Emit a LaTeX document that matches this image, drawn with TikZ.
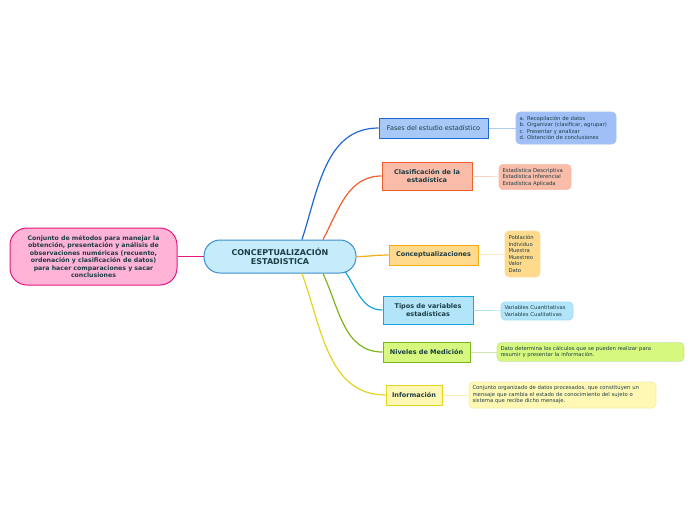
\documentclass[tikz,border=0pt]{standalone}
\usepackage{fontspec}
\setmainfont{DejaVu Sans}
\usetikzlibrary{positioning}
\definecolor{txt}{HTML}{1C3D45}
\definecolor{pinkfill}{HTML}{FFB3D7}
\definecolor{pinkline}{HTML}{E8177D}
\definecolor{rootfill}{HTML}{C6ECFC}
\definecolor{rootline}{HTML}{3C8DCB}
\definecolor{fasesfill}{HTML}{A8C9F7}
\definecolor{fasesline}{HTML}{1F68D4}
\definecolor{clasfill}{HTML}{F8BCA8}
\definecolor{clasline}{HTML}{F05E2A}
\definecolor{concfill}{HTML}{FFD98C}
\definecolor{concline}{HTML}{F5AC10}
\definecolor{tipofill}{HTML}{B3E5FA}
\definecolor{tipoline}{HTML}{18A6E0}
\definecolor{nivfill}{HTML}{D6F87E}
\definecolor{nivline}{HTML}{7AB51D}
\definecolor{infofill}{HTML}{FFF8B5}
\definecolor{infoline}{HTML}{E6D31E}
\tikzset{topicstyle/.style = {rectangle, draw, line width = 1pt, text = txt, align = center, inner sep = 1pt,
	font = \fontsize{6.5}{8}\selectfont\bfseries},
	detailstyle/.style = {rectangle, rounded corners = 4pt, draw, line width = 0.6pt, text = txt, align = left, inner sep = 3.5pt,
	font = \fontsize{5.3}{6.5}\selectfont},
	branch/.style = {line width = 1.2pt},
	twig/.style = {line width = 0.7pt}}

\begin{document}
\begin{tikzpicture}[x=1pt, y=-1pt]
 \useasboundingbox (0,0) rectangle (696,520);

 \node (root) at (280,256.5) [rectangle, rounded corners = 16pt, draw = rootline, fill = rootfill, line width = 1pt,
  minimum width = 152pt, minimum height = 33pt, text = txt, align = center,
  font = \fontsize{8}{9.5}\selectfont\bfseries] {CONCEPTUALIZACIÓN\\ESTADISTICA};

 \node (def) at (93.5,256.5) [rectangle, rounded corners = 17pt, draw = pinkline, fill = pinkfill, line width = 1pt,
  minimum width = 167pt, minimum height = 57pt, text = txt, align = center,
  font = \fontsize{6.2}{7.4}\selectfont\bfseries] {Conjunto de métodos para manejar la\\obtención, presentación y análisis de\\observaciones numéricas (recuento,\\ordenación y clasificación de datos)\\para hacer comparaciones y sacar\\conclusiones};
 \draw [branch, pinkline] (root) -- (def);

 % main topics
 \node (fases) at (433.5,128) [topicstyle, draw = fasesline, fill = fasesfill, minimum width = 109pt, minimum height = 20pt,
  font = \fontsize{6.5}{8}\selectfont] {Fases del estudio estadístico};
 \node (clas) at (427,176) [topicstyle, draw = clasline, fill = clasfill, minimum width = 90pt, minimum height = 28pt] {Clasificación de la\\estadística};
 \node (conc) at (433.5,255) [topicstyle, draw = concline, fill = concfill, minimum width = 89pt, minimum height = 20pt] {Conceptualizaciones};
 \node (tipos) at (428,310) [topicstyle, draw = tipoline, fill = tipofill, minimum width = 90pt, minimum height = 28pt] {Tipos de variables\\estadísticas};
 \node (niv) at (426.5,352) [topicstyle, draw = nivline, fill = nivfill, minimum width = 87pt, minimum height = 20pt] {Niveles de Medición};
 \node (info) at (414,395) [topicstyle, draw = infoline, fill = infofill, minimum width = 56pt, minimum height = 20pt] {Información};

 \draw [branch, fasesline] ([xshift=22pt]root.north) to[out=72, in=180] (fases.west);
 \draw [branch, clasline] ([xshift=43pt]root.north) to[out=62, in=180] (clas.west);
 \draw [branch, concline] (root.east) to[out=0, in=180] (conc.west);
 \draw [branch, tipoline] ([xshift=65pt, yshift=2pt]root.south) to[out=-55, in=180] (tipos.west);
 \draw [branch, nivline] ([xshift=43pt]root.south) to[out=-65, in=180] (niv.west);
 \draw [branch, infoline] ([xshift=22pt]root.south) to[out=-70, in=180] (info.west);

 % details
 \node (fasesd) at (566,128) [detailstyle, draw = fasesline!40, fill = fasesfill!95!blue, text width = 93pt, minimum height = 32pt]
  {a. Recopilación de datos\\b. Organizar (clasificar, agrupar)\\c. Presentar y analizar\\d. Obtención de conclusiones};
 \node (clasd) at (535,177) [detailstyle, draw = clasline!40, fill = clasfill, text width = 65pt, minimum height = 24pt]
  {Estadística Descriptiva\\Estadística Inferencial\\Estadística Aplicada};
 \node (concd) at (522.5,254) [detailstyle, draw = concline!40, fill = concfill, text width = 28pt, minimum height = 46pt]
  {Población\\Individuo\\Muestra\\Muestreo\\Valor\\Dato};
 \node (tiposd) at (537,311) [detailstyle, draw = tipoline!40, fill = tipofill, text width = 65pt, minimum height = 18pt]
  {Variables Cuantitativas\\Variables Cualitativas};
 \node (nivd) at (590.5,352) [detailstyle, draw = nivline!40, fill = nivfill, text width = 180pt, minimum height = 18pt]
  {Dato determina los cálculos que se pueden realizar para\\resumir y presentar la información.};
 \node (infod) at (562.5,395) [detailstyle, draw = infoline!40, fill = infofill, text width = 180pt, minimum height = 26pt]
  {Conjunto organizado de datos procesados, que constituyen un\\mensaje que cambia el estado de conocimiento del sujeto o\\sistema que recibe dicho mensaje.};

 \draw [twig, fasesline!35] (fases) -- (fasesd);
 \draw [twig, clasline!30] (clas) -- (clasd);
 \draw [twig, concline!30] (conc) -- (concd);
 \draw [twig, tipoline!35] (tipos) -- (tiposd);
 \draw [twig, nivline!35] (niv) -- (nivd);
 \draw [twig, infoline!35] (info) -- (infod);

\end{tikzpicture}
\end{document}
